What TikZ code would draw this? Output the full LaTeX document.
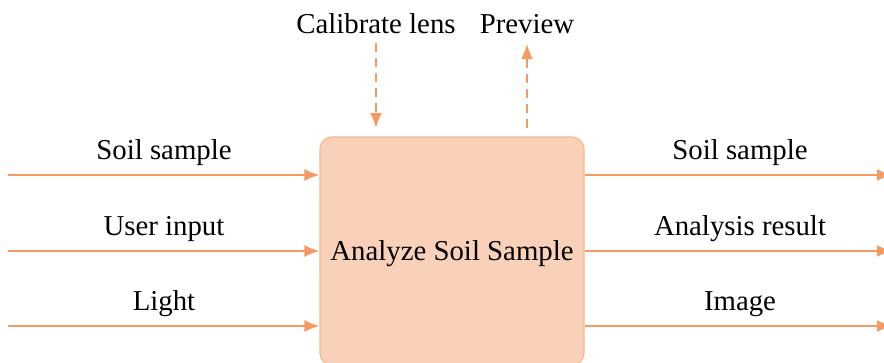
\documentclass[tikz,border=0pt]{standalone}
\usepackage{fontspec}
\setmainfont{Liberation Serif}
\usetikzlibrary{arrows.meta}
\definecolor{flow}{HTML}{F59A62}
\definecolor{boxfill}{HTML}{F9D0B8}
\definecolor{boxline}{HTML}{F6B890}
\tikzset{
  lbl/.style={font=\fontsize{28.8}{33}\selectfont, inner sep=0pt, anchor=base},
  flowline/.style={draw=flow, line width=1.6pt, -{Latex[length=15pt,width=12pt]}},
  ctrl/.style={draw=flow, line width=1.6pt, dash pattern=on 9pt off 6pt, -{Latex[length=15pt,width=12pt]}},
  procbox/.style={draw=boxline, fill=boxfill, line width=1.2pt, rounded corners=12pt}
}
\begin{document}
\begin{tikzpicture}[x=1pt,y=-1pt]
\useasboundingbox (0,0) rectangle (884,362);
\clip (0,0) rectangle (884,362);
% process box
\node[procbox, minimum width=264pt, minimum height=228pt, inner sep=0pt] (proc) at (452,251) {};
\node[lbl] (ptxt) at (452,260) {Analyze Soil Sample};
% inputs
\coordinate (i1) at (8,175);
\coordinate (i2) at (8,251);
\coordinate (i3) at (8,326);
\draw[flowline] (i1) -- (i1 -| proc.west);
\draw[flowline] (i2) -- (i2 -| proc.west);
\draw[flowline] (i3) -- (i3 -| proc.west);
\node[lbl] (li1) at (164,159) {Soil sample};
\node[lbl] (li2) at (164,235) {User input};
\node[lbl] (li3) at (164,310) {Light};
% outputs
\coordinate (o1) at (892,175);
\coordinate (o2) at (892,251);
\coordinate (o3) at (892,326);
\draw[flowline] (o1 -| proc.east) -- (o1);
\draw[flowline] (o2 -| proc.east) -- (o2);
\draw[flowline] (o3 -| proc.east) -- (o3);
\node[lbl] (lo1) at (740,159) {Soil sample};
\node[lbl] (lo2) at (740,235) {Analysis result};
\node[lbl] (lo3) at (740,310) {Image};
% control and mechanism
\node[lbl] (cal) at (376,33) {Calibrate lens};
\node[lbl] (prev) at (527,33) {Preview};
\coordinate (c1) at (376,43);
\coordinate (c2) at (376,128);
\coordinate (p1) at (527,128);
\coordinate (p2) at (527,44);
\draw[ctrl] (c1) -- (c2);
\draw[ctrl] (p1) -- (p2);
\end{tikzpicture}
\end{document}
